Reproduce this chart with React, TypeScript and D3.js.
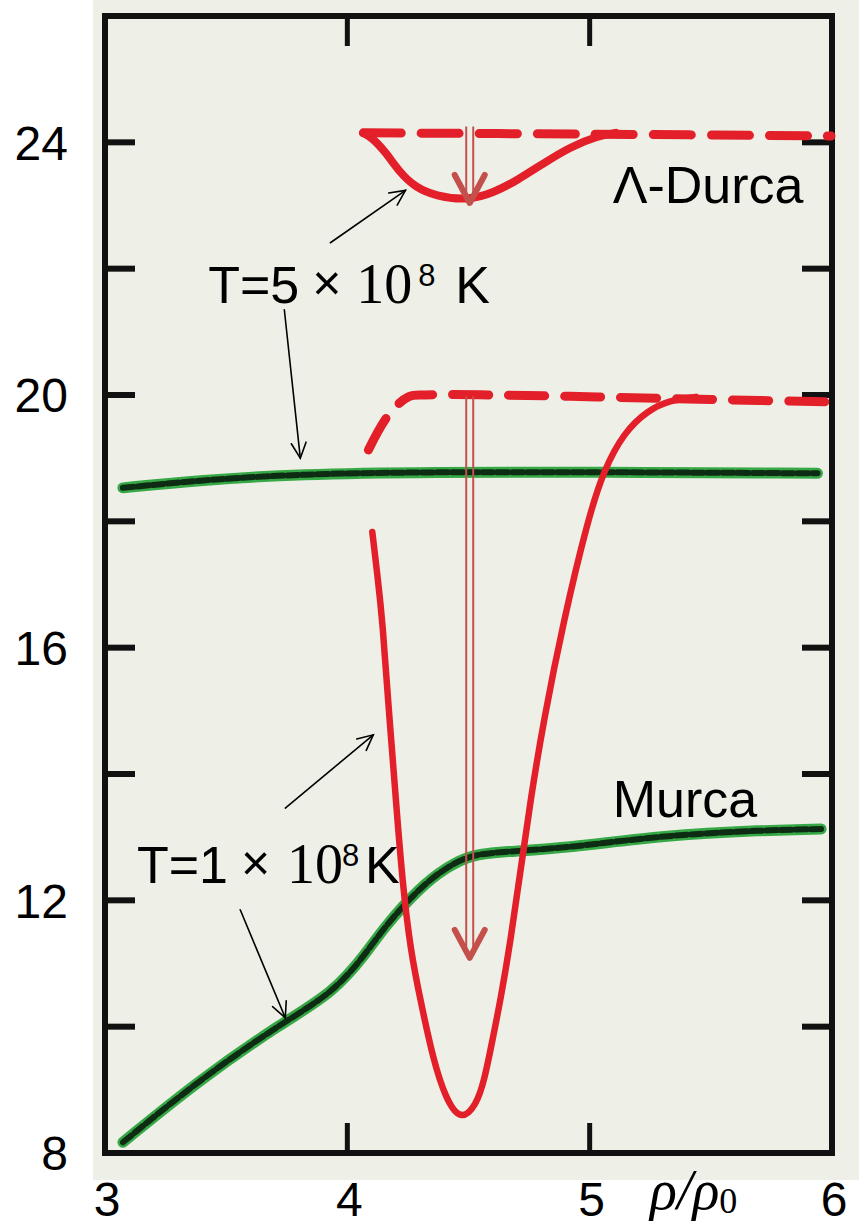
import React from "react";
import * as d3 from "d3";

// ---- data ----
const xTicks = [3, 4, 5, 6];
const yTickLabels = [8, 12, 16, 20, 24];
const yMinorTicks = [10, 12, 14, 16, 18, 20, 22, 24];

// Murca, T=1e8 K (green lower)
const murcaLowX = [3.074, 3.39, 3.735, 3.94, 4.08, 4.149, 4.3, 4.413, 4.508, 4.645, 4.909, 5.306, 5.72, 5.955];
const murcaLowY = [8.17, 9.16, 10.07, 10.53, 11.17, 11.56, 12.21, 12.53, 12.72, 12.77, 12.83, 13.03, 13.11, 13.13];

// Murca, T=5e8 K (green upper)
const murcaHighX = [3.074, 3.39, 3.806, 4.343, 5.03, 5.94];
const murcaHighY = [18.53, 18.65, 18.75, 18.78, 18.78, 18.76];

// Λ-Durca T=5e8 K dashed (no gap)
const ldHighDashX = [4.066, 5.0, 5.996];
const ldHighDashY = [24.15, 24.13, 24.1];

// Λ-Durca T=5e8 K solid (with gap)
const ldHighSolidX = [4.066, 4.103, 4.157, 4.219, 4.281, 4.364, 4.496, 4.603, 4.702, 4.81, 4.921, 5.033, 5.107];
const ldHighSolidY = [24.15, 24.07, 23.85, 23.51, 23.29, 23.15, 23.08, 23.2, 23.4, 23.67, 23.93, 24.1, 24.15];

// Λ-Durca T=1e8 K dashed
const ldLowDashX = [4.087, 4.169, 4.252, 4.322, 4.6, 5.03, 5.5, 5.996];
const ldLowDashY = [19.13, 19.68, 19.97, 20.0, 20.0, 19.97, 19.93, 19.89];

// Λ-Durca T=1e8 K solid
const ldLowSolidX = [4.103, 4.124, 4.145, 4.174, 4.207, 4.227, 4.26, 4.306, 4.355, 4.405, 4.467, 4.533, 4.566, 4.599, 4.632, 4.674, 4.715, 4.756, 4.81, 4.893, 4.992, 5.058, 5.14, 5.24, 5.335, 5.438];
const ldLowSolidY = [17.83, 17.15, 16.44, 14.85, 13.27, 12.32, 11.21, 10.34, 9.47, 8.87, 8.5, 8.76, 9.16, 9.79, 10.42, 11.37, 12.48, 13.59, 14.85, 16.44, 18.02, 18.81, 19.4, 19.76, 19.92, 19.97];

// red gap arrows
const gapArrows = [
  { x: 4.505, y0: 24.25, y1: 23.04 },
  { x: 4.505, y0: 19.98, y1: 11.09 },
];

// black pointer arrows (data coords)
const pointers = [
  { x0: 3.93, y0: 22.41, x1: 4.24, y1: 23.24 },
  { x0: 3.74, y0: 21.35, x1: 3.806, y1: 19.0 },
  { x0: 3.744, y0: 13.46, x1: 4.107, y1: 14.62 },
  { x0: 3.558, y0: 11.85, x1: 3.744, y1: 10.14 },
];

const W = 859;
const H = 1225;
const x = d3.scaleLinear().domain([3, 6]).range([105, 832]);
const y = d3.scaleLinear().domain([8, 26]).range([1153, 16]);

const zip = (xs: number[], ys: number[]) => xs.map((v, i) => [v, ys[i]] as [number, number]);
const mk = (curve: d3.CurveFactory) =>
  d3
    .line<[number, number]>()
    .x((d) => x(d[0]))
    .y((d) => y(d[1]))
    .curve(curve);
const smooth = mk(d3.curveBasis);
const cr = mk(d3.curveCatmullRom.alpha(0.5));

const RED = "#e3202a";
const ARROW_RED = "#c4504c";
const SANS = "'Liberation Sans', Arial, sans-serif";
const SERIF = "'Liberation Serif', 'DejaVu Serif', serif";

function Pointer({ p }: { p: { x0: number; y0: number; x1: number; y1: number } }) {
  const ax = x(p.x0), ay = y(p.y0), bx = x(p.x1), by = y(p.y1);
  const ang = Math.atan2(by - ay, bx - ax);
  const L = 17;
  const a1 = ang + Math.PI - 0.45;
  const a2 = ang + Math.PI + 0.45;
  return (
    <g stroke="#000" strokeWidth={1.6} fill="none" strokeLinecap="round">
      <line x1={ax} y1={ay} x2={bx} y2={by} />
      <polyline
        points={`${bx + L * Math.cos(a1)},${by + L * Math.sin(a1)} ${bx},${by} ${bx + L * Math.cos(a2)},${by + L * Math.sin(a2)}`}
      />
    </g>
  );
}

function TempLabel({ x0, yb, digit, offs }: { x0: number; yb: number; digit: string; offs: number[] }) {
  return (
    <g fill="#000">
      <text x={x0} y={yb} fontFamily={SANS} fontSize={52}>{`T=${digit}`}</text>
      <text x={x0 + offs[0]} y={yb - 3} fontFamily={SANS} fontSize={50}>×</text>
      <text x={x0 + offs[1]} y={yb} fontFamily={SERIF} fontSize={56}>10</text>
      <text x={x0 + offs[2]} y={yb - 17} fontFamily={SANS} fontSize={31}>8</text>
      <text x={x0 + offs[3]} y={yb} fontFamily={SANS} fontSize={52}>K</text>
    </g>
  );
}

export default function App() {
  const left = x(3), right = x(6), top = y(26), bottom = y(8);
  const tickLen = 30;
  return (
    <svg width={W} height={H} style={{ position: "absolute", left: 0, top: 0, background: "#fff" }}>
      <rect x={0} y={0} width={W} height={H} fill="#ffffff" />
      <rect x={93} y={0} width={W - 93} height={1180} fill="#eef0e8" />

      {/* frame */}
      <rect x={left} y={top} width={right - left} height={bottom - top} fill="none" stroke="#111" strokeWidth={6} />
      {yMinorTicks.map((t) => (
        <g key={"yt" + t} stroke="#111" strokeWidth={6}>
          <line x1={left} x2={left + tickLen} y1={y(t)} y2={y(t)} />
          <line x1={right - tickLen} x2={right} y1={y(t)} y2={y(t)} />
        </g>
      ))}
      {[4, 5].map((t) => (
        <g key={"xt" + t} stroke="#111" strokeWidth={5}>
          <line x1={x(t)} x2={x(t)} y1={top} y2={top + tickLen} />
          <line x1={x(t)} x2={x(t)} y1={bottom - tickLen} y2={bottom} />
        </g>
      ))}

      {/* tick labels */}
      {yTickLabels.map((t) => (
        <text key={"yl" + t} x={68} y={y(t)} dy="0.36em" textAnchor="end" fontFamily={SANS} fontSize={48} fill="#000">
          {t}
        </text>
      ))}
      {xTicks.map((t) => (
        <text key={"xl" + t} x={x(t) + 2} y={1216} textAnchor="middle" fontFamily={SANS} fontSize={48} fill="#000">
          {t}
        </text>
      ))}
      <text x={650} y={1209} fontFamily={SERIF} fontStyle="italic" fontSize={56} fill="#000">
        ρ/ρ
        <tspan fontStyle="normal" fontSize={36} dy={4}>0</tspan>
      </text>

      {/* green curves */}
      {[zip(murcaHighX, murcaHighY), zip(murcaLowX, murcaLowY)].map((d, i) => (
        <g key={"g" + i} fill="none" strokeLinecap="round">
          <path d={smooth(d) || ""} stroke="#36a845" strokeWidth={11} />
          <path d={smooth(d) || ""} stroke="#0e2c13" strokeWidth={6} strokeDasharray="11 4" />
        </g>
      ))}

      {/* red curves */}
      <path d={cr(zip(ldHighDashX, ldHighDashY)) || ""} fill="none" stroke={RED} strokeWidth={9} strokeDasharray="38 20" strokeLinecap="round" />
      <path d={smooth(zip(ldHighSolidX, ldHighSolidY)) || ""} fill="none" stroke={RED} strokeWidth={8} strokeLinecap="round" />
      <path d={cr(zip(ldLowDashX, ldLowDashY)) || ""} fill="none" stroke={RED} strokeWidth={9} strokeDasharray="36 20" strokeLinecap="round" />
      <path d={smooth(zip(ldLowSolidX, ldLowSolidY)) || ""} fill="none" stroke={RED} strokeWidth={6.5} strokeLinecap="round" />

      {/* red gap arrows */}
      {gapArrows.map((a, i) => {
        const cx = x(a.x), ya = y(a.y0), yb = y(a.y1);
        return (
          <g key={"ga" + i}>
            <line x1={cx - 3.5} x2={cx - 3.5} y1={ya} y2={yb - 4} stroke={ARROW_RED} strokeWidth={2} />
            <line x1={cx + 3.5} x2={cx + 3.5} y1={ya} y2={yb - 4} stroke={ARROW_RED} strokeWidth={2} />
            <polyline
              points={`${cx - 15},${yb - 28} ${cx},${yb} ${cx + 15},${yb - 28}`}
              fill="none"
              stroke={ARROW_RED}
              strokeWidth={6}
              strokeLinecap="round"
              strokeLinejoin="round"
            />
          </g>
        );
      })}

      {pointers.map((p, i) => (
        <Pointer key={"p" + i} p={p} />
      ))}

      {/* labels */}
      <TempLabel x0={x(3.426)} yb={y(21.46)} digit="5" offs={[104, 148, 210, 247]} />
      <TempLabel x0={x(3.132)} yb={y(12.27)} digit="1" offs={[104, 150, 205, 228]} />
      <text x={x(5.095)} y={y(23.04)} fontFamily={SANS} fontSize={52} fill="#000">
        Λ-Durca
      </text>
      <text x={x(5.095)} y={y(13.32)} fontFamily={SANS} fontSize={52} fill="#000">
        Murca
      </text>
    </svg>
  );
}
